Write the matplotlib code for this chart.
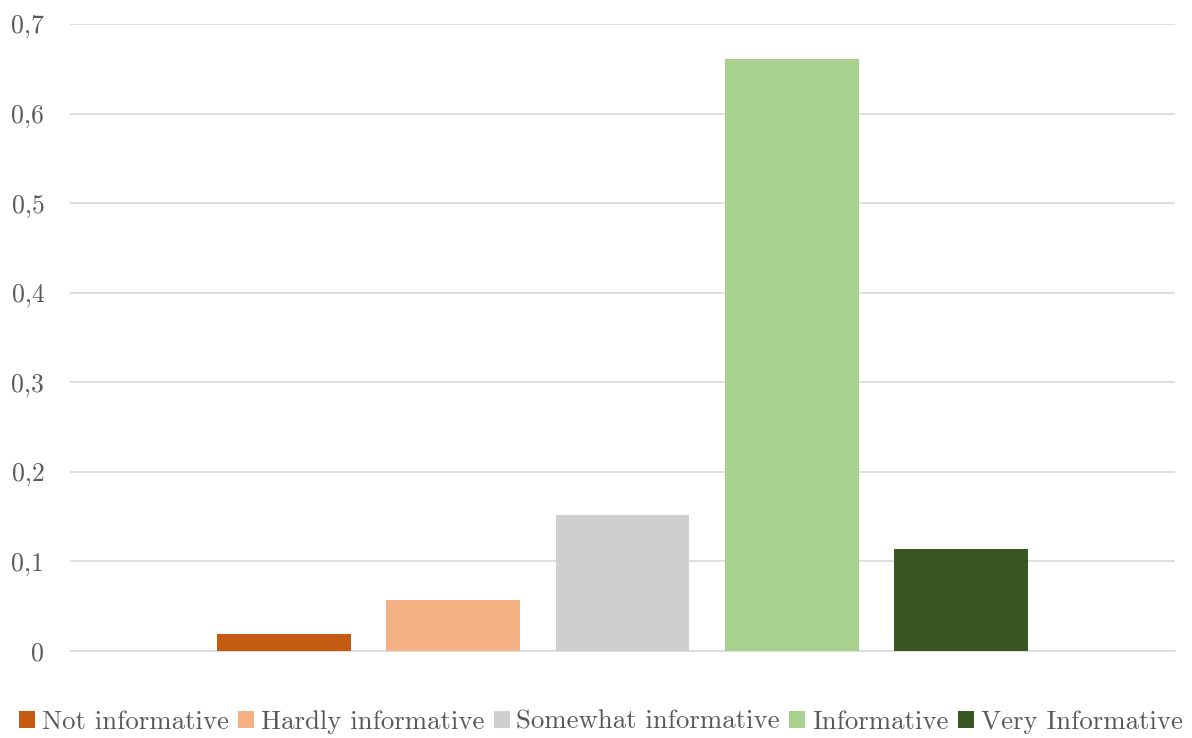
import matplotlib
matplotlib.use("Agg")
import matplotlib.pyplot as plt
import numpy as np

labels = ["Not informative", "Hardly informative", "Somewhat informative",
          "Informative", "Very Informative"]
values = [0.019, 0.057, 0.152, 0.661, 0.114]
colors = ["#c55a11", "#f4b183", "#d0cece", "#a9d18e", "#385723"]
yticks = [0, 0.1, 0.2, 0.3, 0.4, 0.5, 0.6, 0.7]
ytick_labels = ["0", "0,1", "0,2", "0,3", "0,4", "0,5", "0,6", "0,7"]

plt.rcParams["font.family"] = ["cmr10", "DejaVu Sans"]
plt.rcParams["axes.formatter.use_mathtext"] = True
text_col = "#595959"

fig = plt.figure(figsize=(11.92, 7.38), dpi=100)
ax = fig.add_axes([70 / 1192, 1 - 651 / 738, 1105 / 1192, (651 - 24) / 738])

x = np.arange(len(values))
for i, (v, c, lab) in enumerate(zip(values, colors, labels)):
    ax.bar(x[i], v, width=0.79, color=c, label=lab, zorder=3)

ax.set_xlim(-1.263, 5.263)
ax.set_ylim(0, 0.7)
ax.set_yticks(yticks)
ax.set_yticklabels(ytick_labels, fontsize=18.5, color=text_col)
ax.set_xticks([])
ax.grid(axis="y", color="#d9d9d9", linewidth=1.2, zorder=0)
for s in ["top", "right", "left"]:
    ax.spines[s].set_visible(False)
ax.spines["bottom"].set_color("#d9d9d9")
ax.spines["bottom"].set_linewidth(1.2)
ax.tick_params(axis="y", length=0, pad=18.5)

leg = fig.legend(loc="lower center", bbox_to_anchor=(0.504, -0.02), ncol=5,
                 frameon=False, fontsize=19.3, handlelength=0.6, handleheight=0.6,
                 handletextpad=0.25, columnspacing=0.35, borderaxespad=0.3)
for t in leg.get_texts():
    t.set_color(text_col)

fig.savefig("out.png", dpi=100)
